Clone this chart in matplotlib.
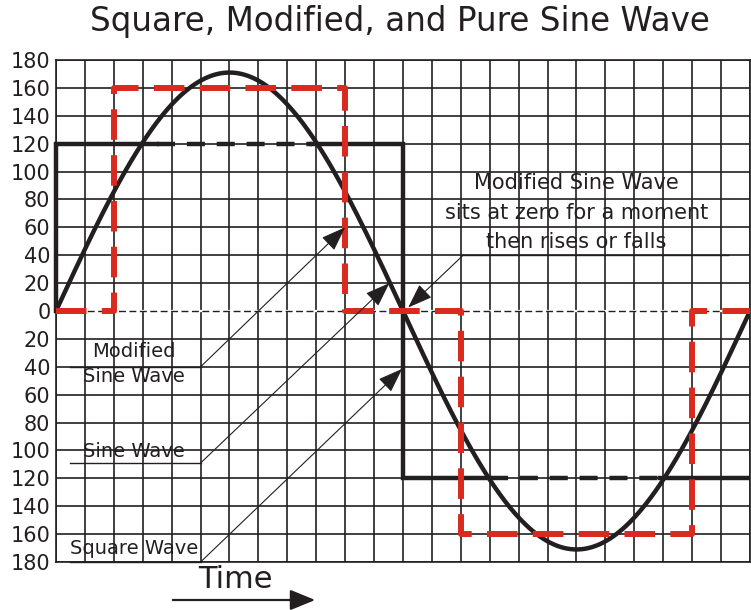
import numpy as np
import matplotlib
matplotlib.use('Agg')
import matplotlib.pyplot as plt

plt.rcParams['lines.scale_dashes'] = False

# Sine wave: amplitude and period
sine_amplitude = 171
sine_period = 24

# Square wave (step corners)
square_x = [0, 0, 12, 12, 24]
square_y = [0, 120, 120, -120, -120]
# parts of the square wave top/bottom that are drawn dashed
square_dash_top = [3.5, 8.85]
square_dash_bottom = [15.0, 20.9]

# Modified sine wave (step corners)
modified_x = [0, 2, 2, 10, 10, 14, 14, 22, 22, 24]
modified_y = [0, 0, 160, 160, 0, 0, -160, -160, 0, 0]

y_ticks = list(range(-180, 181, 20))
y_labels = [str(abs(v)) for v in y_ticks]

ink = '#231f20'
red = '#da2a1f'

fig = plt.figure(figsize=(7.51, 6.10), dpi=100)
ax = fig.add_axes([56 / 751, 1 - 562 / 610, 694 / 751, 502 / 610])
ax.set_xlim(0, 24)
ax.set_ylim(-180, 180)

# grid
ax.set_xticks(range(0, 25))
ax.set_yticks(y_ticks)
ax.set_yticklabels(y_labels, fontsize=15, color=ink)
ax.set_xticklabels([])
ax.tick_params(length=0, pad=4)
ax.grid(True, color=ink, lw=1.2, zorder=0)
ax.set_axisbelow(True)
for s in ax.spines.values():
    s.set_color(ink)
    s.set_linewidth(1.2)

# zero line drawn thin dashed
ax.axhline(0, color='white', lw=1.6, zorder=1)
ax.axhline(0, color=ink, lw=1.0, ls=(0, (5, 2.5)), zorder=1.5)

# pure sine wave
t = np.linspace(0, 24, 400)
ax.plot(t, sine_amplitude * np.sin(2 * np.pi * t / sine_period), color=ink, lw=3.2,
        zorder=3, solid_capstyle='butt')

# square wave: solid parts and dashed parts
sq_lw = 3.2
ax.plot([0, 0, square_dash_top[0]], [0, 120, 120], color=ink, lw=sq_lw, zorder=3,
        solid_joinstyle='miter', clip_on=False)
ax.plot(square_dash_top, [120, 120], color=ink, lw=sq_lw, ls=(0, (13, 8.5)), zorder=3)
ax.plot([square_dash_top[1], 12, 12, square_dash_bottom[0]], [120, 120, -120, -120],
        color=ink, lw=sq_lw, zorder=3, solid_joinstyle='miter')
ax.plot(square_dash_bottom, [-120, -120], color=ink, lw=sq_lw, ls=(0, (13, 8.5)), zorder=3)
ax.plot([square_dash_bottom[1], 24], [-120, -120], color=ink, lw=sq_lw, zorder=3)

# modified sine wave
ax.plot(modified_x, modified_y, color=red, lw=4.3, ls=(0, (22, 11)), zorder=4,
        clip_on=False)

# annotations
arrow = dict(arrowstyle='-|>,head_length=1.1,head_width=0.4', color=ink, lw=0.8,
             shrinkA=0, shrinkB=0, mutation_scale=14)
labels = [
    (['Modified', 'Sine Wave'], [-29, -47], -40, (10, 60)),
    (['Sine Wave'], [-101], -109, (11.53, 20)),
    (['Square Wave'], [-170], -180, (11.97, -41.5)),
]
for lines, ys, base, tip in labels:
    for txt, yy in zip(lines, ys):
        ax.text(2.7, yy, txt, fontsize=14, color=ink, ha='center', va='center', zorder=5)
    ax.plot([0.48, 5.0], [base, base], color=ink, lw=1.0, zorder=5, clip_on=False)
    ax.annotate('', xy=tip, xytext=(5.0, base), arrowprops=arrow, zorder=5)

ax.plot([14.08, 23.25], [40, 40], color=ink, lw=1.0, zorder=5)
ax.annotate('', xy=(12.18, 2.5), xytext=(14.08, 40), arrowprops=arrow, zorder=5)
note = ['Modified Sine Wave', 'sits at zero for a moment', 'then rises or falls']
for txt, yy in zip(note, [91.5, 70.5, 49.5]):
    ax.text(18.0, yy, txt, fontsize=15, color=ink, ha='center', va='center', zorder=5)

# title and time arrow
fig.text(400 / 751, 1 - 22 / 610, 'Square, Modified, and Pure Sine Wave', fontsize=23.5,
         color=ink, ha='center', va='center')
fig.text(235 / 751, 1 - 579 / 610, 'Time', fontsize=22, color=ink, ha='center', va='center')
fig.add_artist(matplotlib.patches.FancyArrowPatch(
    (170 / 751, 1 - 600 / 610), (318 / 751, 1 - 600 / 610), transform=fig.transFigure,
    arrowstyle='-|>,head_length=1.1,head_width=0.45', mutation_scale=14, color=ink, lw=1.6))

fig.savefig('out.png', dpi=100)
